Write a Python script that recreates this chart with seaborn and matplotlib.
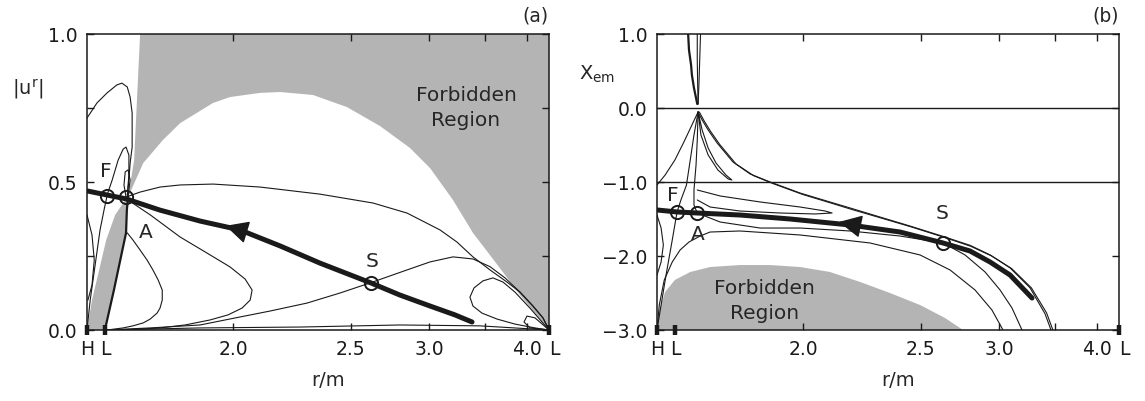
import numpy as np
import matplotlib
matplotlib.use("Agg")
import matplotlib.pyplot as plt
import seaborn as sns

sns.set_theme(style="ticks")
plt.rcParams["font.family"] = ["DejaVu Sans"]
plt.rcParams["mathtext.default"] = "regular"

# ---------------- special radii (r/m) ----------------
R_H = 1.602      # horizon
R_LIN = 1.642    # inner light surface
R_LOUT = 4.324   # outer light surface
x_ticks = [R_H, R_LIN, 2.0, 2.5, 3.0, 3.5, 4.0, R_LOUT]
x_ticklabels = ["H", "L", "2.0", "2.5", "3.0", "", "4.0", "L"]

# ---------------- panel (a): |u^r| vs r/m ----------------
a_yticks = [0.0, 0.25, 0.5, 0.75, 1.0]
a_yticklabels = ["0.0", "", "0.5", "", "1.0"]

# forbidden region (upper): left boundary then dome
a_forb_r = [1.727, 1.719, 1.712, 1.697, 1.735, 1.787, 1.835, 1.934, 1.990, 2.096, 2.174,
            2.315, 2.481, 2.667, 2.861, 3.008, 3.196, 3.379, 3.553, 3.722, 3.907, 4.112,
            4.324, 4.324]
a_forb_u = [1.0, 0.777, 0.574, 0.449, 0.564, 0.642, 0.699, 0.767, 0.787, 0.801, 0.804,
            0.794, 0.753, 0.689, 0.615, 0.547, 0.439, 0.328, 0.253, 0.186, 0.118, 0.057,
            0.0, 1.0]
# forbidden wedge between H and L
a_wedge_r = [1.602, 1.613, 1.629, 1.645, 1.666, 1.690, 1.697, 1.694, 1.692, 1.678, 1.663, 1.642]
a_wedge_u = [0.0, 0.101, 0.203, 0.304, 0.389, 0.439, 0.449, 0.405, 0.328, 0.236, 0.135, 0.0]

# critical solution (thick)
a_thick_r = [1.602, 1.647, 1.692, 1.779, 1.894, 2.024, 2.174, 2.347, 2.613, 2.793, 3.008, 3.213, 3.370]
a_thick_u = [0.470, 0.456, 0.443, 0.405, 0.368, 0.338, 0.284, 0.226, 0.159, 0.118, 0.081, 0.051, 0.027]

# thin solution curves
a_top_r = [1.692, 1.727, 1.779, 1.835, 1.934, 2.096, 2.347, 2.625, 2.841, 3.087, 3.231,
           3.379, 3.553, 3.745, 3.907, 4.083, 4.230, 4.324]
a_top_u = [0.449, 0.466, 0.483, 0.490, 0.493, 0.483, 0.459, 0.429, 0.395, 0.338, 0.297,
           0.247, 0.203, 0.162, 0.128, 0.081, 0.041, 0.0]
a_sep_r = [1.642, 1.753, 1.894, 2.024, 2.134, 2.288, 2.445, 2.608, 2.841, 3.008, 3.196,
           3.379, 3.553, 3.722, 3.907, 4.083, 4.230, 4.324]
a_sep_u = [0.0, 0.007, 0.017, 0.044, 0.064, 0.091, 0.125, 0.159, 0.203, 0.230, 0.247,
           0.240, 0.214, 0.176, 0.128, 0.081, 0.041, 0.0]
a_loopR_r = [4.324, 4.041, 3.843, 3.698, 3.585, 3.479, 3.389, 3.350, 3.379, 3.469, 3.630,
             3.843, 4.112, 4.324]
a_loopR_u = [0.0, 0.074, 0.128, 0.162, 0.176, 0.166, 0.142, 0.111, 0.081, 0.057, 0.037,
             0.020, 0.007, 0.0]
a_loopS_r = [4.324, 4.112, 4.0, 3.960, 4.041, 4.324]
a_loopS_u = [0.0, 0.041, 0.047, 0.027, 0.007, 0.0]
a_bot_r = [1.642, 1.894, 2.257, 2.793, 3.449, 4.324]
a_bot_u = [0.0, 0.007, 0.010, 0.017, 0.014, 0.0]
a_tall_r = [1.602, 1.624, 1.647, 1.670, 1.682, 1.695, 1.702, 1.707, 1.707, 1.707, 1.702, 1.699, 1.695]
a_tall_u = [0.716, 0.767, 0.801, 0.828, 0.834, 0.821, 0.787, 0.733, 0.676, 0.618, 0.564, 0.507, 0.449]
a_loopF_r = [1.647, 1.659, 1.673, 1.685, 1.692, 1.699, 1.699, 1.695]
a_loopF_u = [0.456, 0.507, 0.574, 0.611, 0.618, 0.591, 0.524, 0.456]
a_ellA_r = [1.692, 1.687, 1.690, 1.697, 1.702, 1.697]
a_ellA_u = [0.449, 0.490, 0.534, 0.541, 0.507, 0.449]
a_HF_r = [1.602, 1.609, 1.620, 1.631, 1.640, 1.647]
a_HF_u = [0.0, 0.101, 0.220, 0.338, 0.405, 0.453]
a_bulge_r = [1.602, 1.613, 1.618, 1.613, 1.604]
a_bulge_u = [0.389, 0.321, 0.236, 0.152, 0.101]
a_big_r = [1.697, 1.753, 1.835, 1.909, 1.990, 2.042, 2.067, 2.060, 2.031, 1.983, 1.925,
           1.849, 1.779, 1.702, 1.654]
a_big_u = [0.439, 0.389, 0.314, 0.264, 0.213, 0.172, 0.135, 0.101, 0.074, 0.051, 0.034,
           0.017, 0.007, 0.001, 0.0]
a_small_r = [1.695, 1.709, 1.727, 1.745, 1.760, 1.774, 1.785, 1.785, 1.779, 1.771, 1.753,
             1.735, 1.709, 1.685, 1.647]
a_small_u = [0.328, 0.304, 0.270, 0.236, 0.203, 0.169, 0.135, 0.101, 0.074, 0.057, 0.037,
             0.024, 0.014, 0.007, 0.0]
a_wedge_edge_r = [1.697, 1.694, 1.692, 1.678, 1.663, 1.642]
a_wedge_edge_u = [0.449, 0.405, 0.328, 0.236, 0.135, 0.0]

a_pts_r = [1.647, 1.692, 2.613]       # F, A, S
a_pts_u = [0.453, 0.449, 0.159]

# ---------------- panel (b): X_em vs r/m ----------------
b_yticks = [-3.0, -2.0, -1.0, 0.0, 1.0]
b_yticklabels = ["\u22123.0", "\u22122.0", "\u22121.0", "0.0", "1.0"]
b_hlines = [0.0, -1.0]

b_forb_r = [1.602, 1.607, 1.620, 1.642, 1.678, 1.727, 1.806, 1.894, 1.990, 2.096, 2.215,
            2.347, 2.497, 2.637, 2.748]
b_forb_x = [-3.0, -2.730, -2.486, -2.324, -2.216, -2.149, -2.122, -2.122, -2.149, -2.216,
            -2.351, -2.5, -2.662, -2.838, -3.0]

b_thick_r = [1.602, 1.647, 1.695, 1.806, 1.957, 2.174, 2.395, 2.625, 2.793, 2.933, 3.087, 3.276]
b_thick_x = [-1.378, -1.405, -1.419, -1.446, -1.5, -1.581, -1.676, -1.824, -1.932, -2.081, -2.257, -2.568]

b_fanL_r = [1.697, 1.682, 1.663, 1.642, 1.620, 1.602]
b_fanL_x = [-0.054, -0.230, -0.459, -0.703, -0.905, -1.041]
b_fanF_r = [1.697, 1.687, 1.678, 1.669, 1.656, 1.647, 1.636, 1.622, 1.611, 1.602]
b_fanF_x = [-0.054, -0.365, -0.703, -1.041, -1.243, -1.405, -1.784, -2.257, -2.662, -3.0]
b_fanA_r = [1.697, 1.695, 1.692, 1.687, 1.687, 1.695]
b_fanA_x = [-0.054, -0.432, -0.770, -1.108, -1.311, -1.419]
b_loopC_r = [1.697, 1.707, 1.722, 1.742, 1.768, 1.784, 1.774, 1.747, 1.722, 1.704, 1.697]
b_loopC_x = [-0.054, -0.297, -0.541, -0.743, -0.905, -0.973, -0.959, -0.838, -0.635, -0.365, -0.054]
b_env1_r = [1.697, 1.707, 1.722, 1.745, 1.787, 1.835, 1.894, 1.990, 2.096, 2.174, 2.301,
            2.445, 2.625, 2.793, 2.933, 3.087, 3.258, 3.399, 3.459]
b_env1_x = [-0.054, -0.162, -0.297, -0.473, -0.730, -0.892, -1.0, -1.149, -1.270, -1.351,
            -1.473, -1.595, -1.735, -1.855, -1.985, -2.160, -2.430, -2.780, -3.0]
b_env2_r = [1.700, 1.712, 1.728, 1.752, 1.795, 1.845, 1.905, 2.0, 2.105, 2.18, 2.31,
            2.455, 2.635, 2.80, 2.945, 3.10, 3.27, 3.415, 3.478]
b_env2_x = [-0.054, -0.175, -0.315, -0.495, -0.755, -0.915, -1.025, -1.17, -1.29, -1.37,
            -1.49, -1.61, -1.75, -1.87, -2.00, -2.17, -2.43, -2.77, -3.0]
b_loopM_r = [1.695, 1.753, 1.864, 1.990, 2.078, 2.104, 2.042, 1.925, 1.806, 1.727, 1.695]
b_loopM_x = [-1.108, -1.189, -1.270, -1.338, -1.392, -1.419, -1.432, -1.419, -1.392, -1.338, -1.243]
b_P_r = [1.695, 1.753, 1.864, 1.990, 2.174, 2.395, 2.625, 2.761, 2.897, 3.008, 3.103, 3.187]
b_P_x = [-1.419, -1.541, -1.622, -1.622, -1.662, -1.730, -1.824, -1.986, -2.216, -2.459, -2.703, -3.0]
b_low_r = [1.602, 1.607, 1.618, 1.636, 1.654, 1.675, 1.702, 1.727, 1.806, 1.990, 2.257,
           2.497, 2.667, 2.827, 2.947, 3.031]
b_low_x = [-3.0, -2.662, -2.324, -2.081, -1.919, -1.811, -1.730, -1.676, -1.662, -1.716,
           -1.824, -1.986, -2.189, -2.459, -2.730, -3.0]
b_bulge_r = [1.602, 1.611, 1.616, 1.611, 1.602]
b_bulge_x = [-1.446, -1.622, -1.851, -2.081, -2.257]
b_sp1_r = [1.673, 1.675, 1.680, 1.682, 1.687, 1.692, 1.695]
b_sp1_x = [1.0, 0.784, 0.581, 0.446, 0.270, 0.135, 0.054]
b_sp2_r = [1.695, 1.695, 1.696, 1.697]
b_sp2_x = [1.0, 0.649, 0.311, 0.054]
b_sp3_r = [1.703, 1.701, 1.699, 1.697]
b_sp3_x = [1.0, 0.649, 0.311, 0.054]

b_pts_r = [1.647, 1.695, 2.625]
b_pts_x = [-1.405, -1.419, -1.824]

GRAY = "#b4b4b4"
THIN = 0.8
THICK = 3.6
TICK_FS = 13.5
LABEL_FS = 14.5


def fwd(r):
    return -1.0 / np.asarray(r, dtype=float)


def inv(v):
    return -1.0 / np.asarray(v, dtype=float)


def curve(ax, r, y, lw=THIN):
    sns.lineplot(x=r, y=y, sort=False, estimator=None, ax=ax, color="k", lw=lw)


fig = plt.figure(figsize=(11.45, 4.01), dpi=100)
axA = fig.add_axes([87 / 1145, 71 / 401, 462 / 1145, 296 / 401])
axB = fig.add_axes([657 / 1145, 71 / 401, 462 / 1145, 296 / 401])

for ax in (axA, axB):
    ax.set_xscale("function", functions=(fwd, inv))

# ---- panel (a)
axA.fill(a_forb_r, a_forb_u, color=GRAY, lw=0, zorder=0)
axA.fill(a_wedge_r, a_wedge_u, color=GRAY, lw=0, zorder=0)
for r, u in [(a_top_r, a_top_u), (a_sep_r, a_sep_u), (a_loopR_r, a_loopR_u),
             (a_loopS_r, a_loopS_u), (a_bot_r, a_bot_u), (a_tall_r, a_tall_u),
             (a_loopF_r, a_loopF_u), (a_ellA_r, a_ellA_u), (a_HF_r, a_HF_u),
             (a_bulge_r, a_bulge_u), (a_big_r, a_big_u), (a_small_r, a_small_u)]:
    curve(axA, r, u)
curve(axA, a_wedge_edge_r, a_wedge_edge_u, lw=1.6)
curve(axA, a_thick_r, a_thick_u, lw=THICK)
axA.plot(a_pts_r, a_pts_u, ls="none", marker="o", ms=9.5, mfc="none", mec="k", mew=1.4, zorder=5)
axA.annotate("", xy=(1.975, 0.352), xytext=(2.07, 0.324),
             arrowprops=dict(arrowstyle="-|>,head_length=1.0,head_width=0.5",
                             mutation_scale=14.4, color="k", lw=1, shrinkA=0, shrinkB=0))
axA.text(1.645, 0.534, "F", fontsize=LABEL_FS, ha="center", va="center")
axA.text(1.742, 0.331, "A", fontsize=LABEL_FS, ha="center", va="center")
axA.text(2.619, 0.233, "S", fontsize=LABEL_FS, ha="center", va="center")
axA.text(3.313, 0.75, "Forbidden\nRegion", fontsize=14.5, ha="center", va="center",
         linespacing=1.35)
axA.set_ylim(0, 1.0)
axA.set_yticks(a_yticks)
axA.set_yticklabels(a_yticklabels)

# ---- panel (b)
axB.fill(b_forb_r + [b_forb_r[0]], b_forb_x + [b_forb_x[0]], color=GRAY, lw=0, zorder=0)
for h in b_hlines:
    axB.axhline(h, color="k", lw=1.0)
for r, x in [(b_fanL_r, b_fanL_x), (b_fanF_r, b_fanF_x), (b_fanA_r, b_fanA_x),
             (b_loopC_r, b_loopC_x), (b_env1_r, b_env1_x), (b_env2_r, b_env2_x),
             (b_loopM_r, b_loopM_x), (b_P_r, b_P_x), (b_low_r, b_low_x),
             (b_bulge_r, b_bulge_x), (b_sp2_r, b_sp2_x), (b_sp3_r, b_sp3_x)]:
    curve(axB, r, x)
curve(axB, b_sp1_r, b_sp1_x, lw=1.6)
curve(axB, b_thick_r, b_thick_x, lw=THICK)
axB.plot(b_pts_r, b_pts_x, ls="none", marker="o", ms=9.5, mfc="none", mec="k", mew=1.4, zorder=5)
axB.annotate("", xy=(2.13, -1.54), xytext=(2.235, -1.612),
             arrowprops=dict(arrowstyle="-|>,head_length=1.0,head_width=0.5",
                             mutation_scale=14.4, color="k", lw=1, shrinkA=0, shrinkB=0))
axB.text(1.638, -1.189, "F", fontsize=LABEL_FS, ha="center", va="center")
axB.text(1.697, -1.703, "A", fontsize=LABEL_FS, ha="center", va="center")
axB.text(2.619, -1.432, "S", fontsize=LABEL_FS, ha="center", va="center")
axB.text(1.876, -2.608, "Forbidden\nRegion", fontsize=14.5, ha="center", va="center",
         linespacing=1.35)
axB.set_ylim(-3.0, 1.0)
axB.set_yticks(b_yticks)
axB.set_yticklabels(b_yticklabels)

# ---- shared axis styling
for ax in (axA, axB):
    ax.set_xlim(R_H, R_LOUT)
    ax.set_xticks(x_ticks)
    ax.set_xticklabels(x_ticklabels)
    ax.set_xlabel("")
    ax.set_ylabel("")
    ax.tick_params(direction="in", top=True, right=True, length=5, width=1.0,
                   labelsize=TICK_FS, colors="k")
    ax.tick_params(axis="x", pad=7)
    ax.tick_params(axis="y", pad=7)
    for s in ax.spines.values():
        s.set_linewidth(1.1)
        s.set_color("k")
    ticks = ax.xaxis.get_major_ticks()
    for i in (0, 1, len(ticks) - 1):
        ticks[i].tick1line.set_visible(False)
        ticks[i].tick2line.set_visible(False)
    ax.get_xticklabels()[-1].set_ha("left")
    ax.plot([R_H, R_LIN, R_LOUT], [ax.get_ylim()[0]] * 3, ls="none", marker="|",
            ms=7, mew=3.2, color="k", clip_on=False, zorder=6)
    ax.set_facecolor("white")

# ---- figure-level labels
fig.text(28 / 1145, 1 - 90 / 401, "|u$^{r}$|", fontsize=14, ha="center", va="center")
fig.text(597 / 1145, 1 - 74 / 401, "X$_{em}$", fontsize=14, ha="center", va="center")
fig.text(328 / 1145, 1 - 380 / 401, "r/m", fontsize=14, ha="center", va="center")
fig.text(898 / 1145, 1 - 380 / 401, "r/m", fontsize=14, ha="center", va="center")
fig.text(549 / 1145, 1 - 16 / 401, "(a)", fontsize=13.5, ha="right", va="center")
fig.text(1119 / 1145, 1 - 16 / 401, "(b)", fontsize=13.5, ha="right", va="center")

fig.savefig("out.png", dpi=100)
